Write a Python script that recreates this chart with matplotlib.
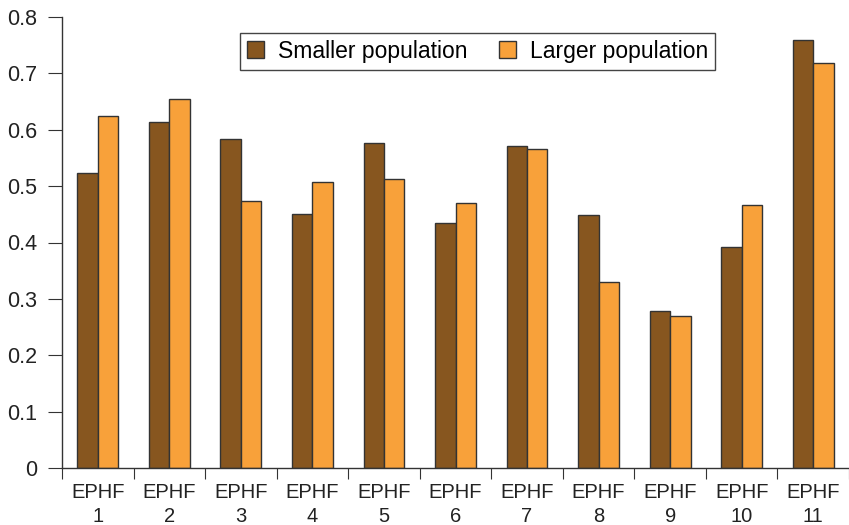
import numpy as np
import matplotlib
matplotlib.use("Agg")
import matplotlib.pyplot as plt
from matplotlib.ticker import FuncFormatter

categories = ["EPHF\n%d" % i for i in range(1, 12)]
smaller = [0.524, 0.613, 0.583, 0.451, 0.577, 0.435, 0.572, 0.449, 0.278, 0.392, 0.759]
larger = [0.625, 0.654, 0.474, 0.508, 0.512, 0.470, 0.565, 0.330, 0.269, 0.467, 0.718]

plt.rcParams['font.family'] = ['Liberation Sans', 'DejaVu Sans']
plt.rcParams['font.size'] = 15

fig = plt.figure(figsize=(8.49, 5.25), dpi=100)
ax = fig.add_axes([62 / 849, 1 - 468 / 525, 1 - 62 / 849, 451 / 525])

x = np.arange(len(categories))
w = 0.285
ax.bar(x - w / 2, smaller, w, color="#87561f", edgecolor="#333333", linewidth=1.0,
       label="Smaller population")
ax.bar(x + w / 2, larger, w, color="#f8a13a", edgecolor="#333333", linewidth=1.0,
       label="Larger population")

ax.set_ylim(0, 0.8)
ax.set_xlim(-0.5, len(categories) - 0.5 - 3 / 72)
ax.set_yticks(np.arange(0, 0.81, 0.1))
ax.yaxis.set_major_formatter(FuncFormatter(lambda v, p: "0" if v == 0 else "%.1f" % v))

ax.set_xticks(np.arange(len(categories) + 1) - 0.5)
ax.set_xticklabels([])
ax.set_xticks(x, minor=True)
ax.set_xticklabels(categories, minor=True, color="#222222", fontsize=14.5)
ax.tick_params(axis="x", which="minor", length=0, pad=11)
ax.tick_params(axis="x", which="major", length=8, color="#333333", direction="out")
ax.tick_params(axis="y", length=10, color="#333333", labelcolor="#222222", pad=8,
               labelsize=15.5)
for lab in ax.get_xticklabels(minor=True):
    lab.set_linespacing(1.3)

for s in ["top", "right"]:
    ax.spines[s].set_visible(False)
for s in ["left", "bottom"]:
    ax.spines[s].set_color("#333333")
    ax.spines[s].set_linewidth(1.0)

leg = ax.legend(loc="upper center", bbox_to_anchor=(0.528, 0.965), ncol=2, fancybox=False,
                edgecolor="#444444", framealpha=1, handlelength=0.75, handleheight=0.75,
                handletextpad=0.6, columnspacing=1.4, borderpad=0.3, borderaxespad=0,
                fontsize=16.5)
leg.get_frame().set_linewidth(1.0)

fig.savefig("out.png", dpi=100)
